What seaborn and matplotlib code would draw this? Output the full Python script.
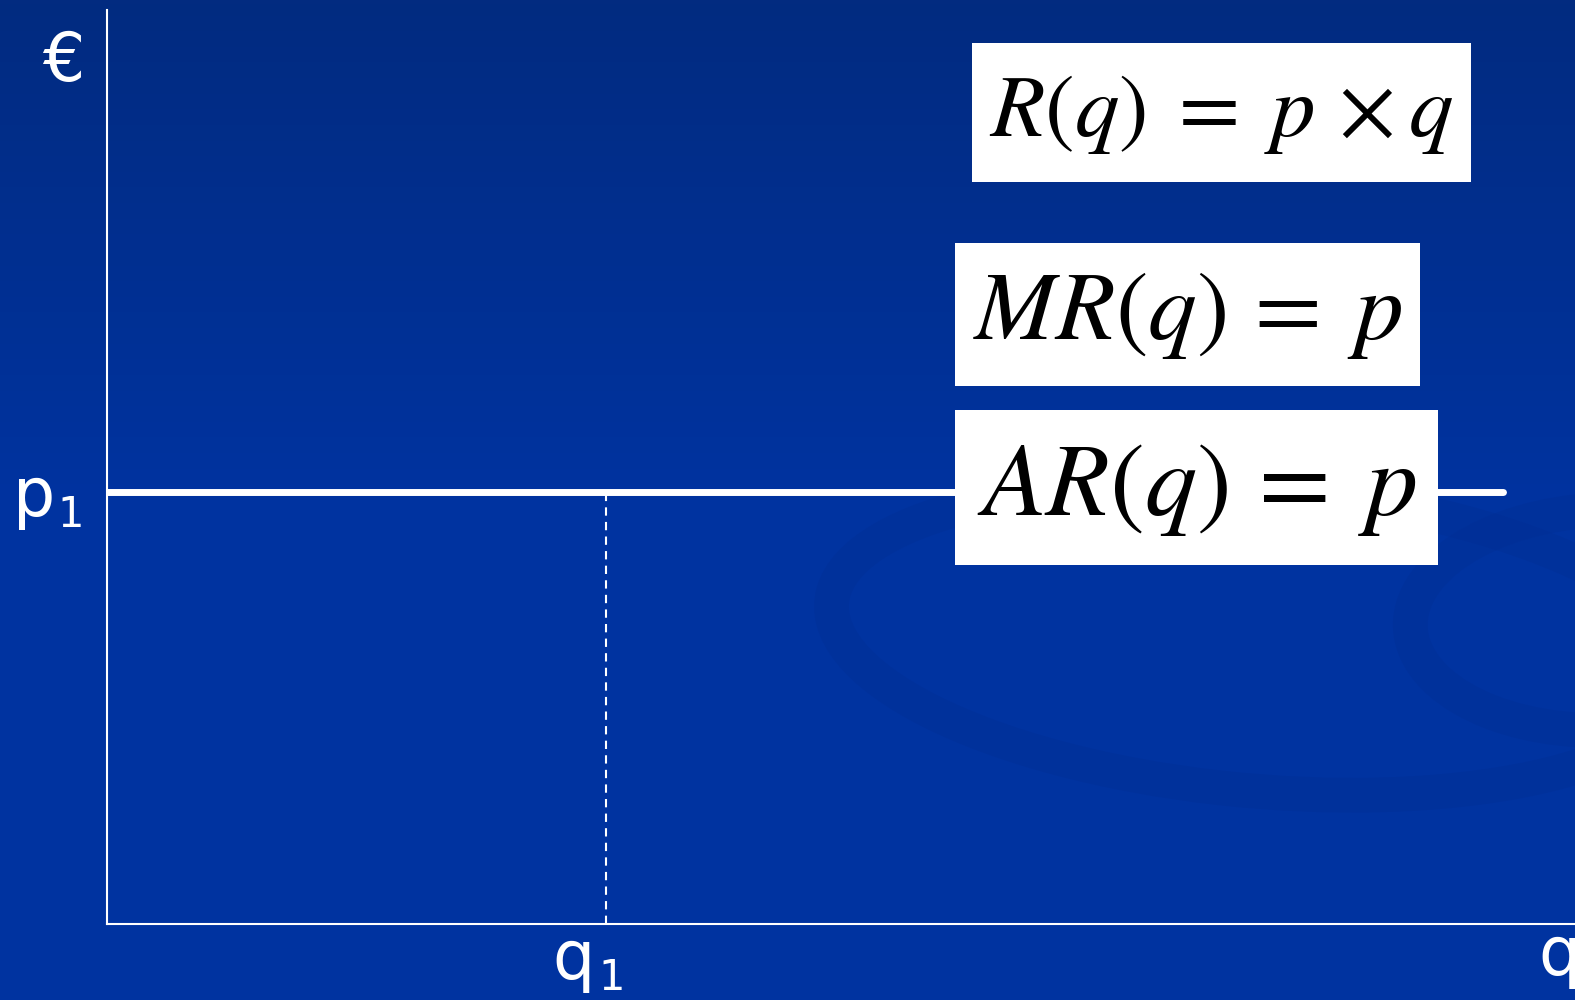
import numpy as np
import pandas as pd
import matplotlib
matplotlib.use("Agg")
import matplotlib.pyplot as plt
import seaborn as sns
from matplotlib.patches import Rectangle, Ellipse

# data
q_range = [0.0, 9.51]      # extent of the revenue line
p1 = 4.73                  # price level
q1 = 3.40                  # chosen quantity
axis_labels = ["€", "q"]
point_labels = [("p", "1"), ("q", "1")]
formulas = [r"$R\left(q\right)\;=\;p\,\times q$", r"$MR\left(q\right)\,=\;p$", r"$AR\left(q\right)\,=\;p$"]

sns.set_style("white")
plt.rcParams["font.family"] = ["DejaVu Sans"]
plt.rcParams["mathtext.fontset"] = "stix"

fig = plt.figure(figsize=(15.75, 10), dpi=100)

# background gradient
bg = fig.add_axes([0, 0, 1, 1], zorder=0)
grad = np.linspace(0, 1, 256).reshape(-1, 1)
cmap = matplotlib.colors.LinearSegmentedColormap.from_list("bg", ["#022b80", "#0033a0", "#0033a0"])
bg.imshow(grad, aspect="auto", cmap=cmap, extent=[0, 1, 0, 1], origin="upper")
for cx, cy, w, h, a in [(0.80, 0.36, 0.55, 0.30, -10), (1.02, 0.38, 0.25, 0.22, 10)]:
    bg.add_patch(Ellipse((cx, cy), w, h, angle=a, fill=False, lw=25,
                         ec="#002e94", alpha=0.4))
bg.set_xlim(0, 1)
bg.set_ylim(0, 1)
bg.axis("off")

ax = fig.add_axes([107.5 / 1575, 0.076, 1 - 107.5 / 1575, 0.914], zorder=1)
ax.patch.set_alpha(0)

df = pd.DataFrame({"q": q_range, "p": [p1, p1]})
sns.lineplot(data=df, x="q", y="p", color="white", lw=5, ax=ax)
ax.plot([q1, q1], [0, p1], color="white", lw=1.5, ls=(0, (4, 3)))

ax.set_xlim(0, 10)
ax.set_ylim(0, 10)
for s in ["top", "right"]:
    ax.spines[s].set_visible(False)
for s in ["left", "bottom"]:
    ax.spines[s].set_color("white")
    ax.spines[s].set_linewidth(1.5)
ax.set_xticks([])
ax.set_yticks([])
ax.set_xlabel("")
ax.set_ylabel("")

# axis labels
lab_kw = dict(color="white", ha="center", va="center", fontsize=48)
fig.text(63 / 1575, 1 - 62 / 1000, axis_labels[0], **lab_kw)
fig.text(1560 / 1575, 1 - 956 / 1000, axis_labels[1], **lab_kw)
sub_kw = dict(color="white", ha="left", va="baseline", fontsize=30)
for (base, sub), (bx, by, sx, sy) in zip(point_labels, [(34, 497, 57, 527), (574, 960, 598, 990)]):
    fig.text(bx / 1575, 1 - by / 1000, base, **lab_kw)
    fig.text(sx / 1575, 1 - sy / 1000, sub, **sub_kw)

# formula boxes
boxes = [(972, 43, 499, 139, 64), (955, 243, 465, 143, 70), (955, 410, 483, 155, 75)]
for (x0, y0, w, h, fs), txt in zip(boxes, formulas):
    fig.patches.append(Rectangle((x0 / 1575, 1 - (y0 + h) / 1000), w / 1575, h / 1000,
                                 transform=fig.transFigure, fc="white", ec="none", zorder=2))
    fig.text((x0 + w / 2) / 1575, 1 - (y0 + h / 2) / 1000, txt, color="black",
             ha="center", va="center", fontsize=fs, zorder=3)

plt.savefig("out.png", dpi=100)
